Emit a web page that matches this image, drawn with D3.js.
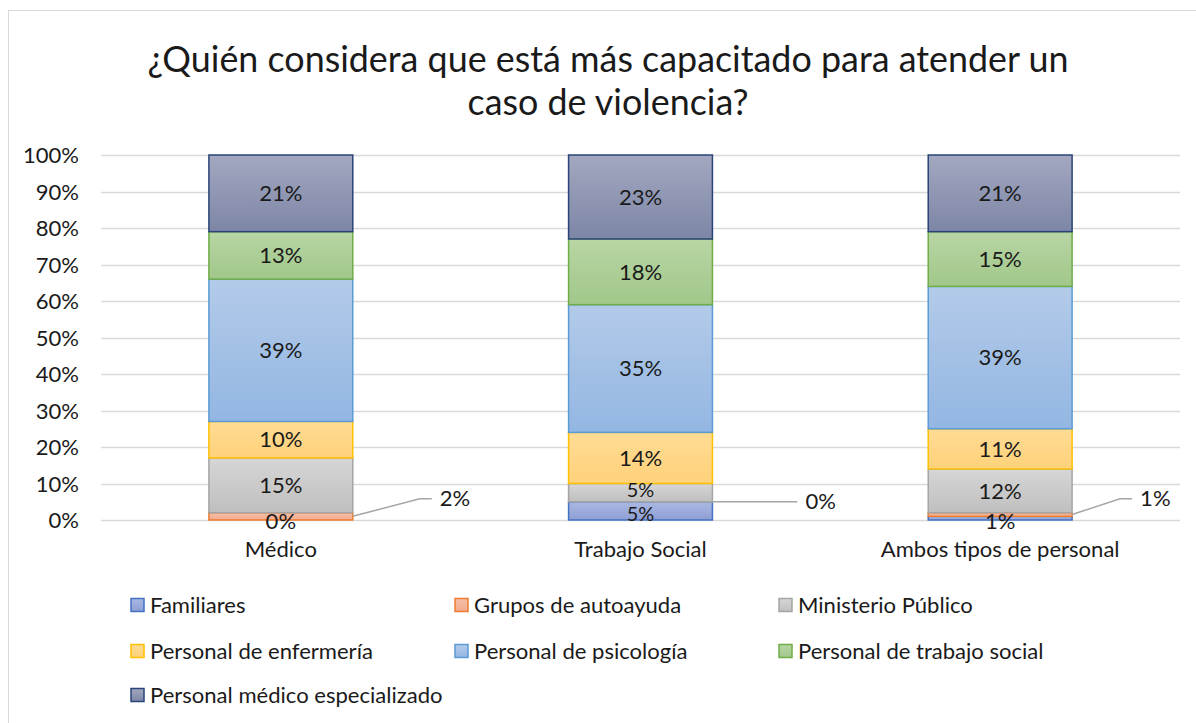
<!DOCTYPE html>
<html>
<head>
<meta charset="utf-8">
<script src="https://cdn.jsdelivr.net/npm/d3@7"></script>
<style>
  html, body { margin: 0; padding: 0; background: #fff; }
  svg { display: block; }
  text { font-family: Lato, "Open Sans", "DejaVu Sans", sans-serif; fill: #1a1a1a; }
</style>
</head>
<body>
<svg id="chart" width="1196" height="723"></svg>
<script>
// ---------- data ----------
const categories = ["Médico", "Trabajo Social", "Ambos tipos de personal"];
const seriesNames = [
  "Familiares", "Grupos de autoayuda", "Ministerio Público",
  "Personal de enfermería", "Personal de psicología",
  "Personal de trabajo social", "Personal médico especializado"
];
const familiares        = [0, 5, 1];
const gruposAutoayuda   = [2, 0, 1];
const ministerioPublico = [15, 5, 12];
const enfermeria        = [10, 14, 11];
const psicologia        = [39, 35, 39];
const trabajoSocial     = [13, 18, 15];
const medicoEsp         = [21, 23, 21];
const yTicks = [0, 10, 20, 30, 40, 50, 60, 70, 80, 90, 100];
const titleLines = ["¿Quién considera que está más capacitado para atender un", "caso de violencia?"];

// ---------- styles ----------
const fillTop    = ["#aab8e2", "#f6c0aa", "#d6d6d6", "#ffdb94", "#b3cbe9", "#b8d6a4", "#a3a8c0"];
const fillBottom = ["#8e9fd5", "#f2ab8c", "#bfbfbf", "#ffd27a", "#93b6e2", "#a1c78a", "#7d86a6"];
const strokes    = ["#4472c4", "#ed7d31", "#a5a5a5", "#ffc000", "#5b9bd5", "#70ad47", "#2a4479"];
const leaderBend = [67, 0, 48];
const leaderEnd  = [79, 85, 60];

const seriesValues = [familiares, gruposAutoayuda, ministerioPublico, enfermeria, psicologia, trabajoSocial, medicoEsp];
const rows = categories.map((c, i) => {
  const r = { cat: c };
  seriesNames.forEach((s, j) => r[s] = seriesValues[j][i]);
  return r;
});

const svg = d3.select("#chart");

svg.append("rect").attr("x", 8.5).attr("y", 10.5).attr("width", 1200).attr("height", 730)
  .attr("fill", "#fff").attr("stroke", "#d9d9d9").attr("stroke-width", 1);

const defs = svg.append("defs");
seriesNames.forEach((s, j) => {
  const g = defs.append("linearGradient").attr("id", "grad" + j)
    .attr("x1", 0).attr("y1", 0).attr("x2", 0).attr("y2", 1);
  g.append("stop").attr("offset", "0%").attr("stop-color", fillTop[j]);
  g.append("stop").attr("offset", "100%").attr("stop-color", fillBottom[j]);
});

function fit(sel, target) {
  const w = sel.node().getComputedTextLength();
  const fs = parseFloat(sel.attr("font-size"));
  sel.attr("font-size", fs * target / w);
  return fs * target / w;
}

const t1 = svg.append("text").attr("x", 608).attr("y", 72).attr("text-anchor", "middle")
  .attr("font-size", 32).text(titleLines[0]);
const tfs = fit(t1, 921);
svg.append("text").attr("x", 608).attr("y", 115).attr("text-anchor", "middle")
  .attr("font-size", tfs).text(titleLines[1]);

const x = d3.scaleBand().domain(categories).range([101, 1180]).paddingInner(0.6).paddingOuter(0.3);
const y = d3.scaleLinear().domain([0, 100]).range([520, 155]);

const probe = svg.append("text").attr("font-size", 18).text("Ambos tipos de personal");
const baseFs = 18 * 239 / probe.node().getComputedTextLength();
probe.remove();

svg.append("g").selectAll("line").data(yTicks).join("line")
  .attr("x1", 101).attr("x2", 1180)
  .attr("y1", d => Math.round(y(d)) + 0.5).attr("y2", d => Math.round(y(d)) + 0.5)
  .attr("stroke", "#d9d9d9").attr("stroke-width", 1.5);

const yAxis = d3.axisLeft(y).tickValues(yTicks).tickFormat(d => d + "%").tickSize(0).tickPadding(0);
const ya = svg.append("g").attr("transform", "translate(79,0)").call(yAxis);
ya.select(".domain").remove();
ya.selectAll("text").attr("font-size", baseFs).attr("font-family", null).attr("fill", "#1a1a1a").attr("dy", "0.35em");

const xAxis = d3.axisBottom(x).tickSize(0).tickPadding(0);
const xa = svg.append("g").attr("transform", "translate(0,540)").call(xAxis);
xa.select(".domain").remove();
xa.selectAll("text").attr("font-size", baseFs).attr("font-family", null).attr("fill", "#1a1a1a").attr("dy", "0.75em");

const stack = d3.stack().keys(seriesNames)(rows);
const bw = x.bandwidth();
const layers = svg.append("g").selectAll("g").data(stack).join("g")
  .attr("fill", (d, j) => `url(#grad${j})`).attr("stroke", (d, j) => strokes[j]);
layers.selectAll("rect").data(d => d).join("rect")
  .attr("x", d => x(d.data.cat))
  .attr("y", d => y(d[1]))
  .attr("width", bw)
  .attr("height", d => Math.max(0, y(d[0]) - y(d[1])))
  .attr("stroke-width", 1.5);

const labelG = svg.append("g");
const leaderSeries = 1;
stack.forEach((layer, j) => {
  layer.forEach((d, i) => {
    const v = d[1] - d[0];
    const cx = x(d.data.cat) + bw / 2;
    const cy = (y(d[0]) + y(d[1])) / 2;
    if (j === leaderSeries) {
      const right = x(d.data.cat) + bw;
      let pts;
      if (v === 0) pts = [[cx + 13, cy], [right + leaderEnd[i], cy]];
      else {
        const ly = y(d[1]) - 14;
        pts = [[right, cy], [right + leaderBend[i], ly], [right + leaderEnd[i], ly]];
      }
      labelG.append("path").attr("d", d3.line()(pts)).attr("fill", "none")
        .attr("stroke", "#a6a6a6").attr("stroke-width", 1.5);
      labelG.append("text").attr("x", pts[pts.length - 1][0] + 8).attr("y", pts[pts.length - 1][1])
        .attr("dy", "0.35em").attr("font-size", baseFs).text(v + "%");
    } else {
      let ly = cy, fs = baseFs;
      if (j === 0 && v <= 1) ly = y(0) + 1;
      // tightly stacked small segments: nudge apart and shrink a little
      if (j === 0 && v > 1 && v < 8) { ly += 3; fs = baseFs * 0.9; }
      if (j === 2 && v < 8) { ly -= 3; fs = baseFs * 0.9; }
      labelG.append("text").attr("x", cx).attr("y", ly)
        .attr("text-anchor", "middle").attr("dy", "0.35em").attr("font-size", fs).text(v + "%");
    }
  });
});

const legendPos = [[131, 605], [455, 605], [779, 605], [131, 651], [455, 651], [779, 651], [131, 695]];
const lg = svg.append("g");
seriesNames.forEach((s, j) => {
  const [lx, ly] = legendPos[j];
  lg.append("rect").attr("x", lx).attr("y", ly - 6.5).attr("width", 13).attr("height", 13)
    .attr("fill", `url(#grad${j})`).attr("stroke", strokes[j]).attr("stroke-width", 1.5);
  lg.append("text").attr("x", lx + 19).attr("y", ly).attr("dy", "0.35em")
    .attr("font-size", baseFs).text(s);
});
</script>
</body>
</html>
